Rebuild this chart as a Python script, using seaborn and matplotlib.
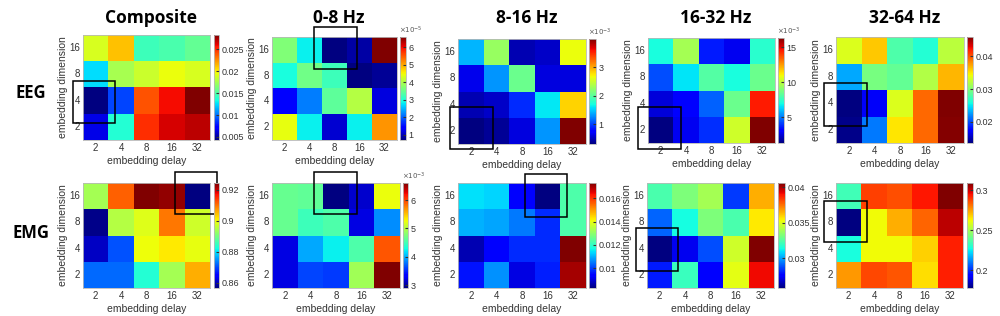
import matplotlib
matplotlib.use('Agg')
import matplotlib.pyplot as plt
import seaborn as sns
import pandas as pd
from matplotlib.patches import Rectangle
from matplotlib.ticker import FuncFormatter

delays = [2, 4, 8, 16, 32]
dims = [16, 8, 4, 2]
bands = ['Composite', '0-8 Hz', '8-16 Hz', '16-32 Hz', '32-64 Hz']
signals = ['EEG', 'EMG']

# rows = embedding dimension 16, 8, 4, 2 ; cols = delay 2..32
eeg_composite = [[0.0190, 0.0212, 0.0145, 0.0148, 0.0156],
                 [0.0125, 0.0176, 0.0186, 0.0195, 0.0190],
                 [0.0043, 0.0089, 0.0240, 0.0258, 0.0283],
                 [0.0065, 0.0137, 0.0250, 0.0265, 0.0270]]
eeg_0_8 = [[3.68, 2.83, 0.71, 0.90, 6.59],
           [2.95, 3.56, 3.20, 0.71, 0.83],
           [1.44, 2.17, 3.44, 4.05, 1.20],
           [4.41, 2.83, 1.14, 2.83, 5.14]]
eeg_8_16 = [[1.42, 2.26, 0.47, 0.54, 2.64],
            [0.66, 1.31, 2.07, 0.62, 0.62],
            [0.47, 0.54, 0.92, 1.61, 2.83],
            [0.31, 0.39, 0.62, 1.31, 3.98]]
eeg_16_32 = [[7.0, 9.55, 3.55, 2.8, 7.3],
             [4.3, 6.55, 8.05, 7.0, 8.5],
             [2.5, 3.1, 4.6, 8.5, 14.5],
             [1.3, 2.8, 3.85, 10.3, 16.3]]
eeg_32_64 = [[0.0334, 0.0360, 0.0279, 0.0262, 0.0321],
             [0.0230, 0.0295, 0.0288, 0.0318, 0.0367],
             [0.0136, 0.0171, 0.0334, 0.0393, 0.0458],
             [0.0139, 0.0214, 0.0350, 0.0393, 0.0456]]

emg_composite = [[0.8938, 0.9113, 0.9245, 0.9232, 0.8567],
                 [0.8574, 0.8952, 0.8987, 0.9099, 0.8973],
                 [0.8609, 0.8707, 0.9001, 0.9015, 0.8994],
                 [0.8721, 0.8721, 0.8833, 0.8938, 0.9057]]
emg_0_8 = [[4.66, 4.62, 2.90, 3.16, 5.25],
           [4.66, 4.47, 4.54, 3.23, 3.87],
           [3.23, 3.98, 4.24, 4.54, 5.93],
           [3.23, 3.61, 3.57, 4.92, 6.60]]
emg_8_16 = [[0.0114, 0.0113, 0.0093, 0.0083, 0.0123],
            [0.0110, 0.0109, 0.0105, 0.0098, 0.0123],
            [0.0087, 0.0093, 0.0098, 0.0098, 0.0173],
            [0.0096, 0.0107, 0.0091, 0.0097, 0.0170]]
emg_16_32 = [[0.0323, 0.0332, 0.0339, 0.0285, 0.0365],
             [0.0291, 0.0314, 0.0332, 0.0323, 0.0356],
             [0.0258, 0.0273, 0.0288, 0.0347, 0.0406],
             [0.0280, 0.0320, 0.0276, 0.0351, 0.0391]]
emg_32_64 = [[0.234, 0.288, 0.286, 0.294, 0.309],
             [0.1775, 0.262, 0.273, 0.283, 0.302],
             [0.2275, 0.262, 0.262, 0.268, 0.293],
             [0.276, 0.287, 0.285, 0.266, 0.293]]

eeg_exp = [0, -5, -3, -3, 0]
emg_exp = [0, -3, 0, 0, 0]

eeg_ticks = [[0.005, 0.01, 0.015, 0.02, 0.025], [1, 2, 3, 4, 5, 6], [1, 2, 3],
             [5, 10, 15], [0.02, 0.03, 0.04]]
emg_ticks = [[0.86, 0.88, 0.9, 0.92], [3, 4, 5, 6], [0.01, 0.012, 0.014, 0.016],
             [0.03, 0.035, 0.04], [0.2, 0.25, 0.3]]

# highlight boxes (x0, y0, x1, y1) in cell units, y counted from top row
eeg_boxes = [(-0.39, 1.75, 1.26, 3.35), (1.68, -0.39, 3.4, 1.24), (-0.31, 2.59, 1.37, 4.19),
             (-0.39, 2.63, 1.3, 4.23), (-0.47, 1.74, 1.21, 3.36)]
emg_boxes = [(3.62, -0.42, 5.28, 1.18), (1.64, -0.42, 3.32, 1.18), (2.62, -0.34, 4.26, 1.3),
             (-0.43, 1.71, 1.22, 3.35), (-0.47, 0.68, 1.21, 2.26)]

data = [[eeg_composite, eeg_0_8, eeg_8_16, eeg_16_32, eeg_32_64],
        [emg_composite, emg_0_8, emg_8_16, emg_16_32, emg_32_64]]
exps = [eeg_exp, emg_exp]
ticks = [eeg_ticks, emg_ticks]
boxes = [eeg_boxes, emg_boxes]

# pixel layout: heatmap (left, top, right, bottom), colorbar (left, right)
heat_px = [[(83, 35, 210, 140), (272, 37, 397, 140), (458, 39, 586, 144),
            (648, 38, 775, 143), (836, 37, 964, 143)],
           [(83, 183, 210, 288), (272, 183, 400, 288), (458, 183, 586, 288),
            (647, 183, 774, 288), (836, 183, 963, 288)]]
cb_px = [[(214, 219), (400, 406), (589, 596), (778, 784), (967, 973)],
         [(214, 219), (403, 408), (589, 596), (778, 785), (967, 973)]]

W, H = 1000, 316
plt.rcParams['font.family'] = ['Liberation Sans', 'DejaVu Sans']
txt = '#333333'
edge = '#b8b8b8'

fig = plt.figure(figsize=(10, 3.16), dpi=100)


def frac(l, t, r, b):
    return [l / W, 1 - b / H, (r - l) / W, (b - t) / H]


for i in range(2):
    for j in range(5):
        l, t, r, b = heat_px[i][j]
        ax = fig.add_axes(frac(l, t, r, b))
        cl, cr = cb_px[i][j]
        cax = fig.add_axes(frac(cl, t, cr, b))
        df = pd.DataFrame(data[i][j], index=dims, columns=delays)
        sns.heatmap(df, ax=ax, cmap='jet', cbar_ax=cax, xticklabels=delays, yticklabels=dims)
        ax.tick_params(length=0, labelsize=7, colors=txt, pad=2)
        ax.tick_params(axis='y', labelrotation=0)
        ax.set_xlabel('embedding delay', fontsize=7.5, color=txt, labelpad=2)
        ax.set_ylabel('embedding dimension', fontsize=7.5, color=txt, labelpad=1)
        for s in ax.spines.values():
            s.set_visible(True)
            s.set_color(edge)
            s.set_linewidth(0.6)
        cb = ax.collections[0].colorbar
        cb.set_ticks(ticks[i][j])
        cb.ax.yaxis.set_major_formatter(FuncFormatter(lambda v, p: '%g' % v))
        cb.ax.tick_params(length=2, direction='in', labelsize=6.5, colors=txt, pad=2)
        cb.outline.set_linewidth(0.6)
        cb.outline.set_edgecolor(edge)
        if exps[i][j] != 0:
            cax.text(-0.1, 1.01, r'$\times10^{%d}$' % exps[i][j], transform=cax.transAxes,
                     fontsize=5, color='#555555', ha='left', va='bottom')
        x0, y0, x1, y1 = boxes[i][j]
        ax.add_patch(Rectangle((x0, y0), x1 - x0, y1 - y0, fill=False, ec='black',
                               lw=1.1, clip_on=False, zorder=5))
        if i == 0:
            fig.text((l + cr) / 2 / W, 1 - 18 / H, bands[j], ha='center', va='center',
                     fontsize=12.5, fontweight='bold', family='Open Sans', color='black')

fig.text(31 / W, 1 - 93 / H, signals[0], ha='center', va='center', fontsize=12,
         fontweight='bold', family='Open Sans')
fig.text(31 / W, 1 - 233 / H, signals[1], ha='center', va='center', fontsize=12,
         fontweight='bold', family='Open Sans')

fig.savefig('out.png', dpi=100)
